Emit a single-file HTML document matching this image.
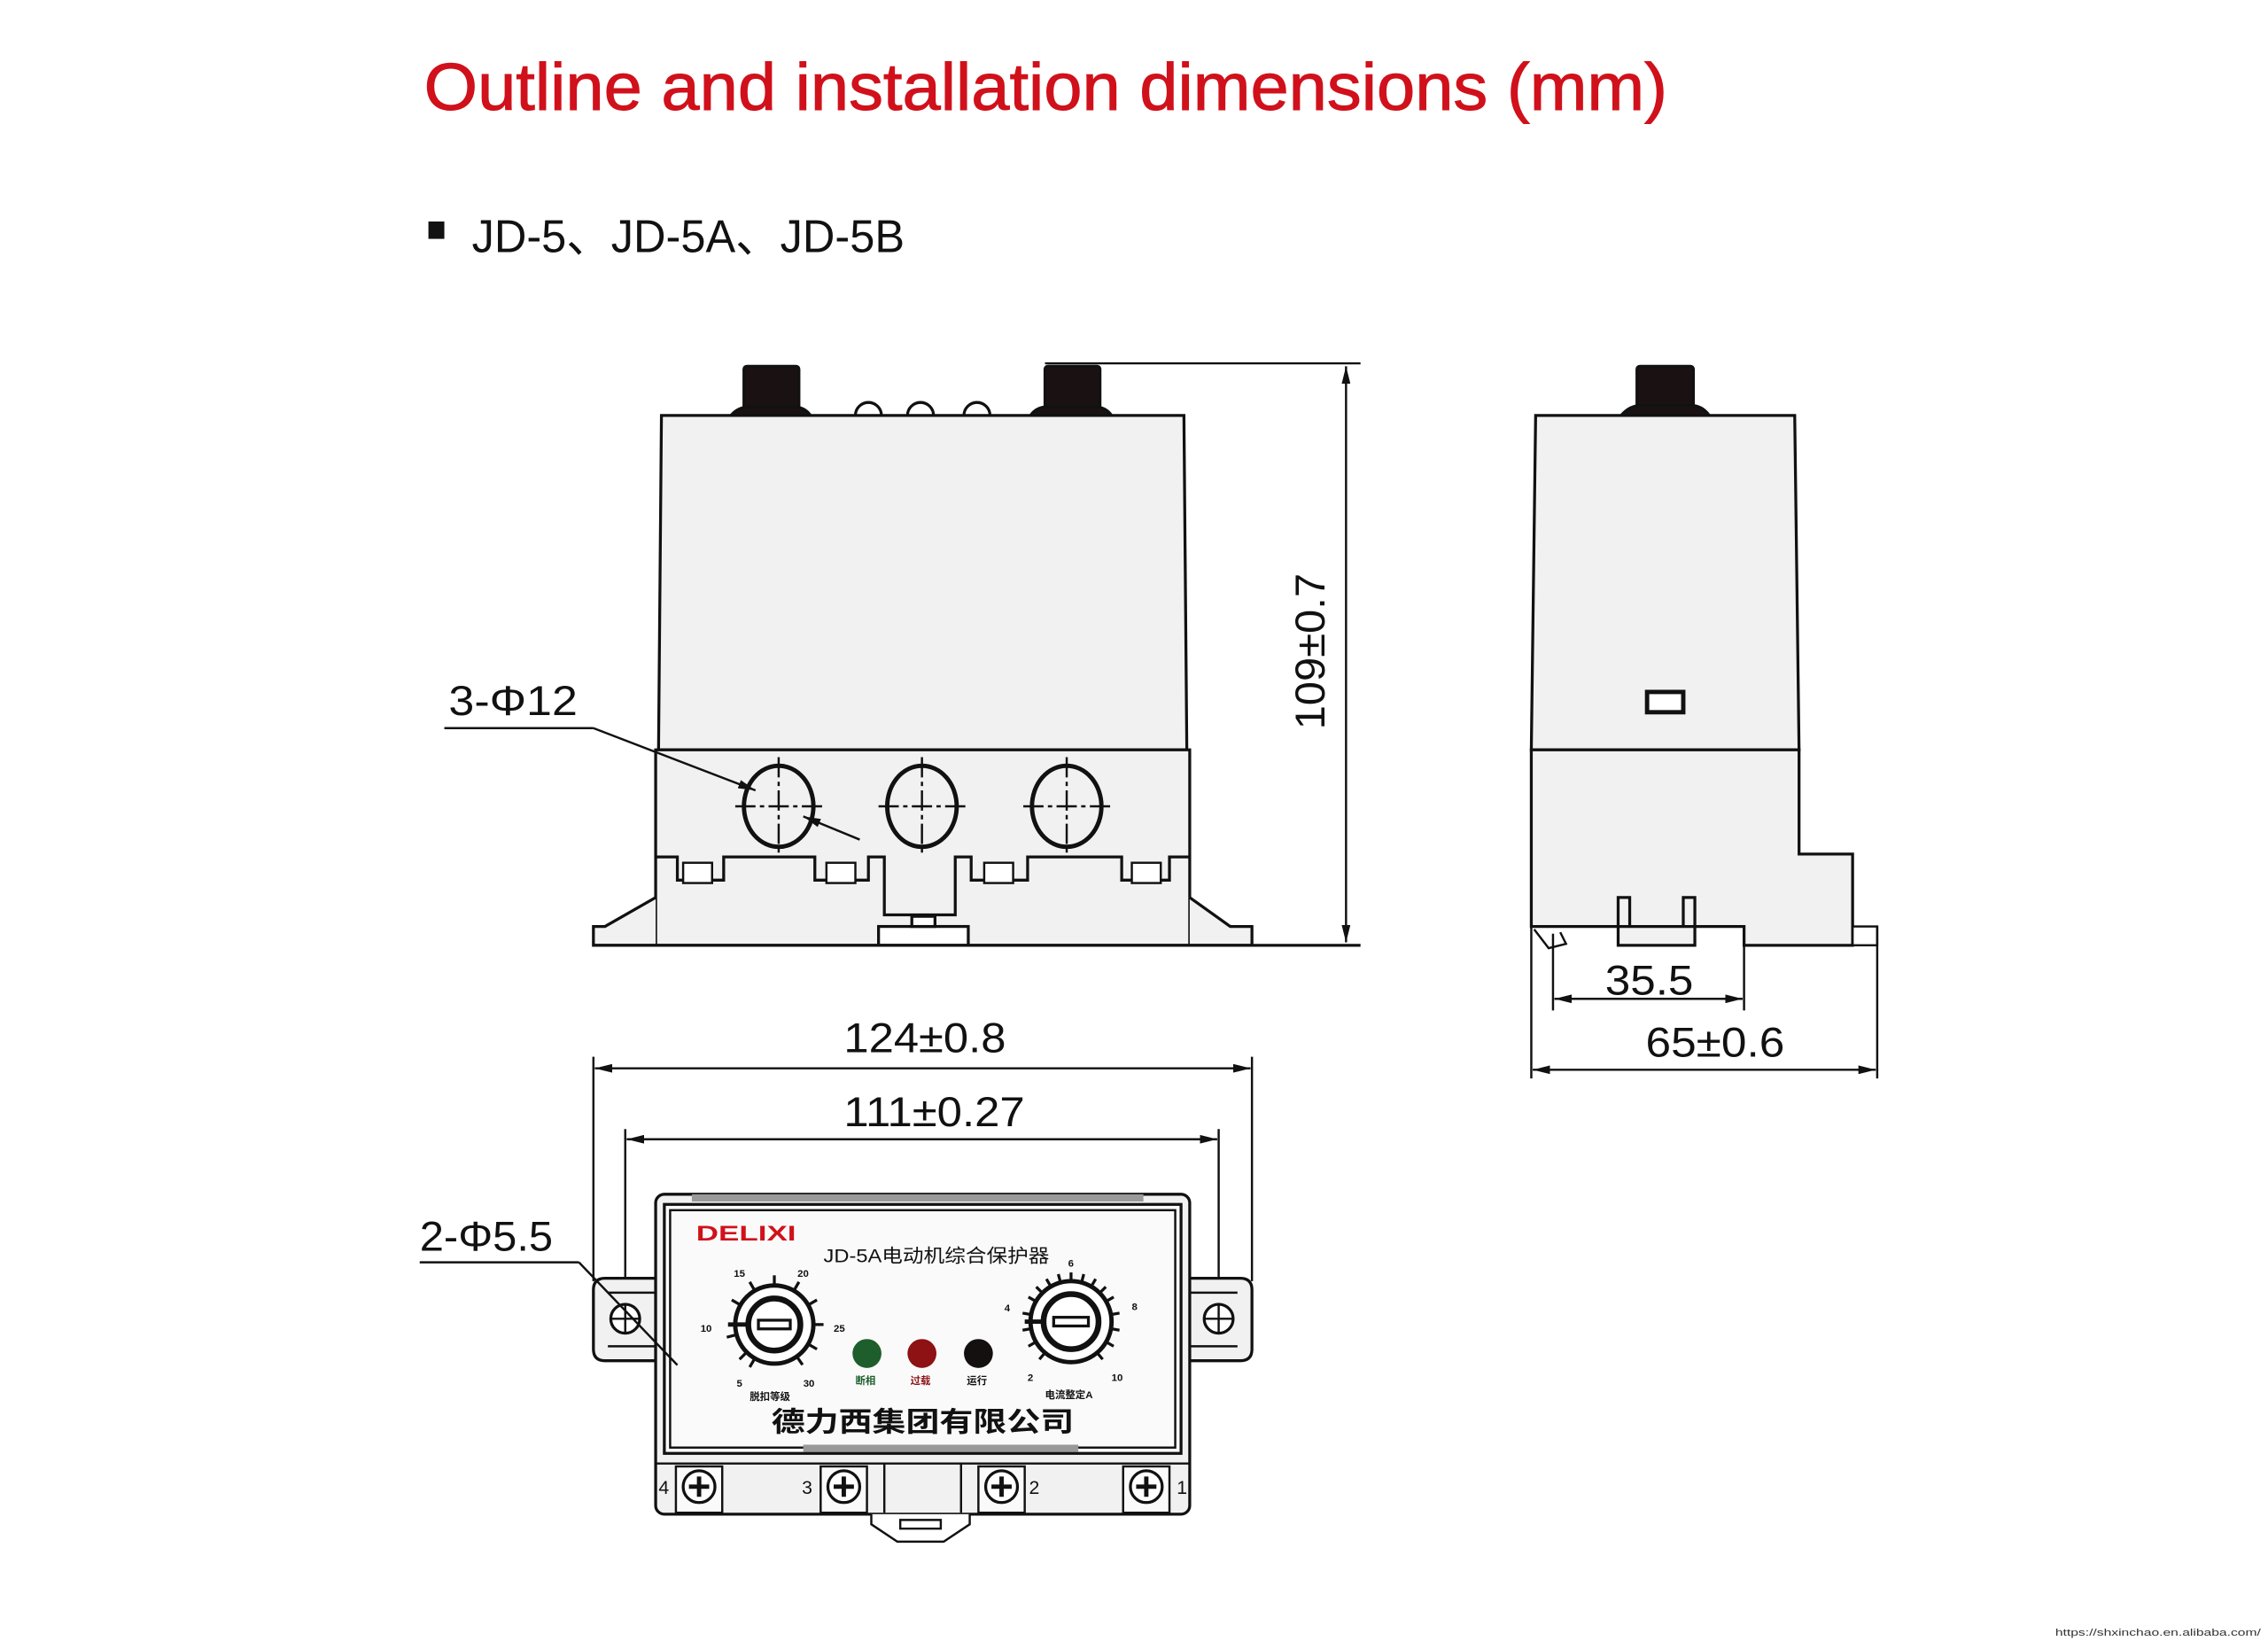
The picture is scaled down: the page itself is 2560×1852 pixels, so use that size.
<!DOCTYPE html>
<html><head><meta charset="utf-8"><style>
html,body{margin:0;padding:0;background:#fff;}
svg{display:block;}
text{font-family:"Liberation Sans","Noto Sans CJK SC",sans-serif;}
</style></head><body>
<svg width="2560" height="1852" viewBox="0 0 1567 1133.6" xmlns="http://www.w3.org/2000/svg">
<defs>
<marker id="ar" markerWidth="12" markerHeight="6" refX="12" refY="3" orient="auto" markerUnits="userSpaceOnUse"><path d="M0,0 L12,3 L0,6 z" fill="#111"/></marker>
<marker id="al" markerWidth="12" markerHeight="6" refX="0" refY="3" orient="auto" markerUnits="userSpaceOnUse"><path d="M12,0 L0,3 L12,6 z" fill="#111"/></marker>
</defs>
<rect width="1567" height="1133.6" fill="#fff"/>
<text x="293" y="76" font-size="46" fill="#d0111b" stroke="#d0111b" stroke-width="0.6" textLength="859" lengthAdjust="spacingAndGlyphs">Outline and installation dimensions (mm)</text>
<rect x="296" y="153" width="11" height="12" fill="#111"/>
<text x="326" y="174" font-size="32" fill="#111" textLength="299" lengthAdjust="spacingAndGlyphs">JD-5、JD-5A、JD-5B</text>

<g stroke="#111" stroke-width="2" fill="#f1f1f1">
<!-- FRONT VIEW -->
<rect x="514" y="253" width="38" height="30" rx="2" fill="#1a1212"/>
<rect x="722" y="253" width="38" height="30" rx="2" fill="#1a1212"/>
<path d="M505,287 Q510,281 518,281 L548,281 Q556,281 560,287 Z" fill="#1a1212"/>
<path d="M712,287 Q716,281 724,281 L756,281 Q764,281 768,287 Z" fill="#1a1212"/>
<path d="M591,287 a9,9 0 0 1 18,0" fill="#fff"/>
<path d="M627,287 a9,9 0 0 1 18,0" fill="#fff"/>
<path d="M666,287 a9,9 0 0 1 18,0" fill="#fff"/>
<path d="M457,287 L818,287 L820,518 L455,518 Z"/>
<path d="M453,518 L822,518 L822,653 L453,653 Z"/>
<path d="M453,592 L468,592 L468,608 L500,608 L500,592 L563,592 L563,608 L600,608 L600,592 L611,592 L611,632 L660,632 L660,592 L671,592 L671,608 L710,608 L710,592 L775,592 L775,608 L808,608 L808,592 L822,592" fill="none"/>
<path d="M453,620 L418,640 L410,640 L410,653 L453,653" fill="#f1f1f1"/>
<path d="M822,620 L850,640 L865,640 L865,653 L822,653" fill="#f1f1f1"/>
<rect x="607" y="640" width="62" height="13" fill="#fff"/>
<rect x="630" y="633" width="16" height="7" fill="#fff"/>
<g fill="#fff" stroke-width="1.5">
<rect x="472" y="596" width="20" height="14"/><rect x="571" y="596" width="20" height="14"/>
<rect x="680" y="596" width="20" height="14"/><rect x="782" y="596" width="20" height="14"/>
</g>
<g fill="none" stroke-width="3">
<ellipse cx="538" cy="557" rx="24" ry="28"/><ellipse cx="637" cy="557" rx="24" ry="28"/><ellipse cx="737" cy="557" rx="24" ry="28"/>
</g>
<g stroke-width="1.5" stroke-dasharray="14,3,3,3">
<line x1="508" y1="557" x2="568" y2="557"/><line x1="538" y1="523" x2="538" y2="592"/>
<line x1="607" y1="557" x2="667" y2="557"/><line x1="637" y1="523" x2="637" y2="592"/>
<line x1="707" y1="557" x2="767" y2="557"/><line x1="737" y1="523" x2="737" y2="592"/>
</g>
<line x1="722" y1="251" x2="940" y2="251" stroke-width="1.5"/>
<line x1="410" y1="653" x2="940" y2="653" stroke-width="2"/>
<line x1="930" y1="253" x2="930" y2="651" stroke-width="1.5" marker-start="url(#al)" marker-end="url(#ar)"/>
<line x1="307" y1="503" x2="410" y2="503" stroke-width="1.5"/>
<line x1="410" y1="503" x2="522" y2="546" stroke-width="1.5" marker-end="url(#ar)"/>
<line x1="594" y1="580" x2="555" y2="564" stroke-width="1.5" marker-end="url(#ar)"/>

<!-- SIDE VIEW -->
<rect x="1131" y="253" width="39" height="30" rx="2" fill="#1a1212"/>
<path d="M1120,287 Q1126,280 1134,280 L1168,280 Q1176,280 1181,287 Z" fill="#1a1212"/>
<path d="M1061,287 L1240,287 L1243,518 L1058,518 Z"/>
<path d="M1058,518 L1243,518 L1243,590 L1280,590 L1280,653 L1205,653 L1205,640 L1058,640 Z"/>
<rect x="1138" y="478" width="25" height="14" fill="#fff" stroke-width="3"/>
<path d="M1118,640 L1118,620 L1126,620 L1126,640 M1163,640 L1163,620 L1171,620 L1171,640" fill="#f1f1f1"/>
<path d="M1118,640 L1171,640 L1171,653 L1118,653 Z" fill="#f1f1f1"/>
<rect x="1280" y="640" width="17" height="13" fill="#fff" stroke-width="1.5"/>
<path d="M1060,642 L1070,655 L1082,652 L1078,644" fill="#fff" stroke-width="1.5"/>
<line x1="1058" y1="640" x2="1058" y2="745" stroke-width="1.5"/>
<line x1="1297" y1="640" x2="1297" y2="745" stroke-width="1.5"/>
<line x1="1073" y1="645" x2="1073" y2="698" stroke-width="1.5"/>
<line x1="1205" y1="653" x2="1205" y2="698" stroke-width="1.5"/>
<line x1="1074" y1="690" x2="1204" y2="690" stroke-width="1.5" marker-start="url(#al)" marker-end="url(#ar)"/>
<line x1="1059" y1="739" x2="1296" y2="739" stroke-width="1.5" marker-start="url(#al)" marker-end="url(#ar)"/>

<!-- BOTTOM VIEW dims -->
<line x1="410" y1="730" x2="410" y2="885" stroke-width="1.5"/>
<line x1="865" y1="730" x2="865" y2="885" stroke-width="1.5"/>
<line x1="432" y1="780" x2="432" y2="925" stroke-width="1.5"/>
<line x1="842" y1="780" x2="842" y2="925" stroke-width="1.5"/>
<line x1="411" y1="738" x2="864" y2="738" stroke-width="1.5" marker-start="url(#al)" marker-end="url(#ar)"/>
<line x1="433" y1="787" x2="841" y2="787" stroke-width="1.5" marker-start="url(#al)" marker-end="url(#ar)"/>

<!-- BOTTOM VIEW body -->
<path d="M453,883 L418,883 Q410,883 410,891 L410,932 Q410,940 418,940 L453,940 Z"/>
<path d="M822,883 L857,883 Q865,883 865,891 L865,932 Q865,940 857,940 L822,940 Z"/>
<line x1="420" y1="893" x2="453" y2="893" stroke-width="1.5"/><line x1="420" y1="930" x2="453" y2="930" stroke-width="1.5"/>
<line x1="822" y1="893" x2="855" y2="893" stroke-width="1.5"/><line x1="822" y1="930" x2="855" y2="930" stroke-width="1.5"/>
<circle cx="432" cy="911" r="10" fill="#fff"/><path d="M422,911 h20 M432,901 v20" stroke-width="1.5"/>
<circle cx="842" cy="911" r="10" fill="#fff"/><path d="M832,911 h20 M842,901 v20" stroke-width="1.5"/>
<rect x="453" y="825" width="369" height="221" rx="6"/>
<rect x="459" y="832" width="357" height="172" fill="#fafafa"/>
<rect x="463" y="836" width="349" height="164" fill="none" stroke-width="1.5"/>
<rect x="478" y="825" width="312" height="5" fill="#999" stroke="none"/>
<rect x="555" y="998" width="190" height="5" fill="#999" stroke="none"/>
<line x1="453" y1="1011" x2="822" y2="1011" stroke-width="1.5"/>
<g fill="#fafafa" stroke-width="1.5">
<rect x="467" y="1013" width="32" height="32"/><rect x="567" y="1013" width="32" height="32"/>
<rect x="676" y="1013" width="32" height="32"/><rect x="776" y="1013" width="32" height="32"/>
</g>
<g fill="#fff" stroke-width="2">
<circle cx="483" cy="1027" r="11"/><circle cx="583" cy="1027" r="11"/><circle cx="692" cy="1027" r="11"/><circle cx="792" cy="1027" r="11"/>
</g>
<path d="M476,1027h14M483,1020v14 M576,1027h14M583,1020v14 M685,1027h14M692,1020v14 M785,1027h14M792,1020v14" stroke-width="3"/>
<line x1="611" y1="1011" x2="611" y2="1045" stroke-width="1.5"/><line x1="664" y1="1011" x2="664" y2="1045" stroke-width="1.5"/>
<path d="M602,1046 L602,1053 L620,1065 L652,1065 L670,1053 L670,1046" fill="#fff" stroke-width="1.5"/>
<path d="M622,1050 L622,1056 L650,1056 L650,1050 Z" fill="#fff" stroke-width="1.5"/>
<line x1="290" y1="872" x2="400" y2="872" stroke-width="1.5"/>
<line x1="400" y1="872" x2="468" y2="943" stroke-width="1.5"/>
</g>

<g transform="translate(535,915)" stroke="#111" fill="none">
<circle r="27" stroke-width="3" fill="#fff"/>
<circle r="18" stroke-width="4"/>
<rect x="-11" y="-3" width="22" height="6" stroke-width="2" fill="#fff"/>
<line x1="-18" y1="0" x2="-32" y2="0" stroke-width="3"/>
<g stroke-width="2">
<line x1="0" y1="-27" x2="0" y2="-34" transform="rotate(-135)"/><line x1="0" y1="-27" x2="0" y2="-34" transform="rotate(-105)"/>
<line x1="0" y1="-27" x2="0" y2="-34" transform="rotate(-60)"/><line x1="0" y1="-27" x2="0" y2="-34" transform="rotate(-30)"/>
<line x1="0" y1="-27" x2="0" y2="-34" transform="rotate(0)"/><line x1="0" y1="-27" x2="0" y2="-34" transform="rotate(30)"/>
<line x1="0" y1="-27" x2="0" y2="-34" transform="rotate(60)"/><line x1="0" y1="-27" x2="0" y2="-34" transform="rotate(90)"/>
<line x1="0" y1="-27" x2="0" y2="-34" transform="rotate(120)"/><line x1="0" y1="-27" x2="0" y2="-34" transform="rotate(145)"/>
<line x1="0" y1="-27" x2="0" y2="-34" transform="rotate(-150)"/>
</g>
</g>
<g transform="translate(740,913)" stroke="#111" fill="none">
<circle r="28" stroke-width="3" fill="#fff"/>
<circle r="19" stroke-width="4"/>
<rect x="-12" y="-3" width="24" height="6" stroke-width="2" fill="#fff"/>
<line x1="-19" y1="0" x2="-32" y2="0" stroke-width="3"/>
<g stroke-width="2">
<line x1="0" y1="-28" x2="0" y2="-34" transform="rotate(-140)"/><line x1="0" y1="-28" x2="0" y2="-34" transform="rotate(-120)"/>
<line x1="0" y1="-28" x2="0" y2="-34" transform="rotate(-100)"/><line x1="0" y1="-28" x2="0" y2="-34" transform="rotate(-80)"/>
<line x1="0" y1="-28" x2="0" y2="-34" transform="rotate(-60)"/><line x1="0" y1="-28" x2="0" y2="-34" transform="rotate(-45)"/>
<line x1="0" y1="-28" x2="0" y2="-34" transform="rotate(-30)"/><line x1="0" y1="-28" x2="0" y2="-34" transform="rotate(-15)"/>
<line x1="0" y1="-28" x2="0" y2="-34" transform="rotate(0)"/><line x1="0" y1="-28" x2="0" y2="-34" transform="rotate(15)"/>
<line x1="0" y1="-28" x2="0" y2="-34" transform="rotate(30)"/><line x1="0" y1="-28" x2="0" y2="-34" transform="rotate(45)"/>
<line x1="0" y1="-28" x2="0" y2="-34" transform="rotate(60)"/><line x1="0" y1="-28" x2="0" y2="-34" transform="rotate(80)"/>
<line x1="0" y1="-28" x2="0" y2="-34" transform="rotate(100)"/><line x1="0" y1="-28" x2="0" y2="-34" transform="rotate(120)"/>
<line x1="0" y1="-28" x2="0" y2="-34" transform="rotate(140)"/>
</g>
</g>
<circle cx="599" cy="935" r="10" fill="#1d5e2c"/>
<circle cx="637" cy="935" r="10" fill="#8e1114"/>
<circle cx="676" cy="935" r="10" fill="#141010"/>

<g fill="#111" font-weight="bold">
<text x="481" y="857" font-size="15" fill="#d0111b" font-family="Liberation Serif, serif" textLength="69" lengthAdjust="spacingAndGlyphs">DELIXI</text>
<text x="569" y="872" font-size="13" font-weight="normal" textLength="156" lengthAdjust="spacingAndGlyphs">JD-5A电动机综合保护器</text>
<g font-size="7">
<text x="507" y="882">15</text><text x="551" y="882">20</text><text x="484" y="920">10</text><text x="576" y="920">25</text>
<text x="509" y="958">5</text><text x="555" y="958">30</text>
<text x="738" y="875">6</text><text x="694" y="906">4</text><text x="782" y="905">8</text><text x="710" y="954">2</text><text x="768" y="954">10</text>
<text x="518" y="967">脱扣等级</text><text x="722" y="966">电流整定A</text>
<text x="591" y="956" fill="#1d5e2c">断相</text><text x="629" y="956" fill="#8e1114">过载</text><text x="668" y="956">运行</text>
</g>
<text x="533" y="989" font-size="19" textLength="209" lengthAdjust="spacingAndGlyphs">德力西集团有限公司</text>
</g>
<g fill="#111" font-size="13">
<text x="455" y="1032">4</text><text x="554" y="1032">3</text><text x="711" y="1032">2</text><text x="813" y="1032">1</text>
</g>

<g fill="#111" font-size="29">
<text x="310" y="494" textLength="89" lengthAdjust="spacingAndGlyphs">3-Φ12</text>
<text x="290" y="864" textLength="92" lengthAdjust="spacingAndGlyphs">2-Φ5.5</text>
<text x="583" y="727" textLength="112" lengthAdjust="spacingAndGlyphs">124±0.8</text>
<text x="583" y="778" textLength="125" lengthAdjust="spacingAndGlyphs">111±0.27</text>
<text x="1109" y="687" textLength="61" lengthAdjust="spacingAndGlyphs">35.5</text>
<text x="1137" y="730" textLength="96" lengthAdjust="spacingAndGlyphs">65±0.6</text>
<text transform="translate(915,504) rotate(-90)" textLength="108" lengthAdjust="spacingAndGlyphs">109±0.7</text>
</g>
<text x="1420" y="1130" font-size="7" fill="#333" font-family="Liberation Mono, monospace" textLength="142" lengthAdjust="spacingAndGlyphs">https://shxinchao.en.alibaba.com/</text>
</svg>
</body></html>
